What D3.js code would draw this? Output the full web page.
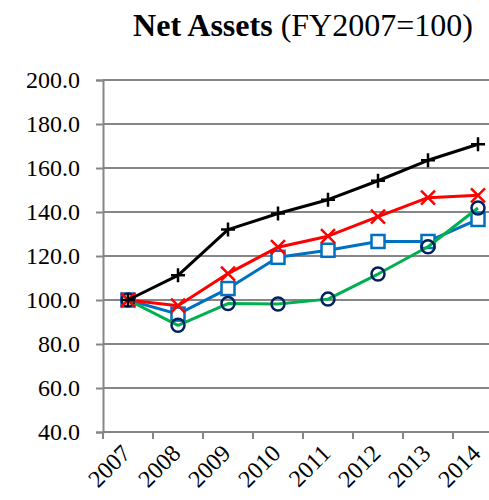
<!DOCTYPE html>
<html lang="en">
<head>
  <meta charset="UTF-8">
  <title>Net Assets</title>
  <script src="https://d3js.org/d3.v7.min.js"></script>
</head>
<body>
</body>
<style>
  body {
    margin: 0;
    padding: 0;
    background: #fff;
  }

  text {
    font-family: "Liberation Serif", "Times New Roman", serif;
    fill: #000;
  }
</style>
<script>
  const width = 489
  const height = 500

  const years = ['2007', '2008', '2009', '2010', '2011', '2012', '2013', '2014']
  const yTicks = [40, 60, 80, 100, 120, 140, 160, 180, 200]

  const blackPlus = [100, 111.2, 132.0, 139.3, 145.6, 154.2, 163.5, 170.8]
  const redCross = [100, 97.4, 112.0, 124.0, 129.0, 137.9, 146.5, 147.6]
  const blueSquare = [100, 93.6, 105.2, 119.4, 122.6, 126.6, 126.6, 136.6]
  const greenCircle = [100, 88.5, 98.4, 98.2, 100.4, 111.8, 124.2, 141.8]

  const plot = { left: 103, right: 503, top: 80, bottom: 432 }

  const x = d3.scaleBand().domain(years).range([plot.left, plot.right])
  const y = d3.scaleLinear().domain([40, 200]).range([plot.bottom, plot.top])
  const cx = d => x(d) + x.bandwidth() / 2

  const svg = d3.select('body').append('svg')
    .attr('width', width)
    .attr('height', height)

  // title
  const title = svg.append('text')
    .attr('x', (plot.left + plot.right) / 2)
    .attr('y', 36)
    .attr('text-anchor', 'middle')
    .style('font-size', '32px')
  title.append('tspan').attr('font-weight', 'bold').text('Net Assets')
  title.append('tspan').text(' (FY2007=100)')

  // gridlines
  svg.append('g')
    .selectAll('line')
    .data(yTicks.filter(t => t > 40))
    .join('line')
    .attr('x1', plot.left)
    .attr('x2', plot.right)
    .attr('y1', d => y(d))
    .attr('y2', d => y(d))
    .attr('stroke', '#868686')
    .attr('stroke-width', 2)

  // y axis
  const yAxis = svg.append('g')
    .attr('transform', `translate(${plot.left},0)`)
    .call(d3.axisLeft(y).tickValues(yTicks).tickSize(7).tickPadding(16).tickFormat(d3.format('.1f')))
  yAxis.select('.domain').attr('stroke', '#868686').attr('stroke-width', 2)
  yAxis.selectAll('.tick line').attr('stroke', '#868686').attr('stroke-width', 2)
  yAxis.selectAll('.tick text')
    .style('font-family', '"Liberation Serif", serif')
    .style('font-size', '24px')
    .attr('fill', '#000')

  // x axis
  const xAxis = svg.append('g')
  xAxis.append('line')
    .attr('x1', plot.left)
    .attr('x2', plot.right)
    .attr('y1', plot.bottom)
    .attr('y2', plot.bottom)
    .attr('stroke', '#868686')
    .attr('stroke-width', 2)
  xAxis.selectAll('.tk')
    .data(years)
    .join('line')
    .attr('class', 'tk')
    .attr('x1', d => x(d))
    .attr('x2', d => x(d))
    .attr('y1', plot.bottom)
    .attr('y2', plot.bottom + 7)
    .attr('stroke', '#868686')
    .attr('stroke-width', 2)
  xAxis.selectAll('text')
    .data(years)
    .join('text')
    .attr('text-anchor', 'end')
    .attr('transform', d => `translate(${cx(d) - 8},${plot.bottom + 11}) rotate(-45)`)
    .attr('dy', '0.7em')
    .style('font-size', '24px')
    .text(d => d)

  const series = [
    { values: blueSquare, color: '#0070c0', marker: 'square', mcolor: '#0070c0' },
    { values: greenCircle, color: '#00b050', marker: 'circle', mcolor: '#002060' },
    { values: redCross, color: '#ff0000', marker: 'cross', mcolor: '#ff0000' },
    { values: blackPlus, color: '#000000', marker: 'plus', mcolor: '#000000' }
  ]

  series.forEach(s => {
    const g = svg.append('g')
    const line = d3.line()
      .x((d, i) => cx(years[i]))
      .y(d => y(d))
    g.append('path')
      .datum(s.values)
      .attr('d', line)
      .attr('fill', 'none')
      .attr('stroke', s.color)
      .attr('stroke-width', 3)
      .attr('stroke-linejoin', 'round')

    const m = g.selectAll('.m')
      .data(s.values)
      .join('g')
      .attr('transform', (d, i) => `translate(${cx(years[i])},${y(d)})`)

    if (s.marker === 'square') {
      m.append('rect')
        .attr('x', -6.5).attr('y', -6.5).attr('width', 13).attr('height', 13)
        .attr('fill', '#fff').attr('stroke', s.mcolor).attr('stroke-width', 2.5)
    } else if (s.marker === 'circle') {
      m.append('circle')
        .attr('r', 6.5)
        .attr('fill', 'none').attr('stroke', s.mcolor).attr('stroke-width', 2.5)
    } else if (s.marker === 'cross') {
      m.append('path')
        .attr('d', 'M-7,-7L7,7M-7,7L7,-7')
        .attr('stroke', s.mcolor).attr('stroke-width', 2.5)
    } else {
      m.append('path')
        .attr('d', 'M-7,0L7,0M0,-7L0,7')
        .attr('stroke', s.mcolor).attr('stroke-width', 2.5)
    }
  })
</script>
</html>
